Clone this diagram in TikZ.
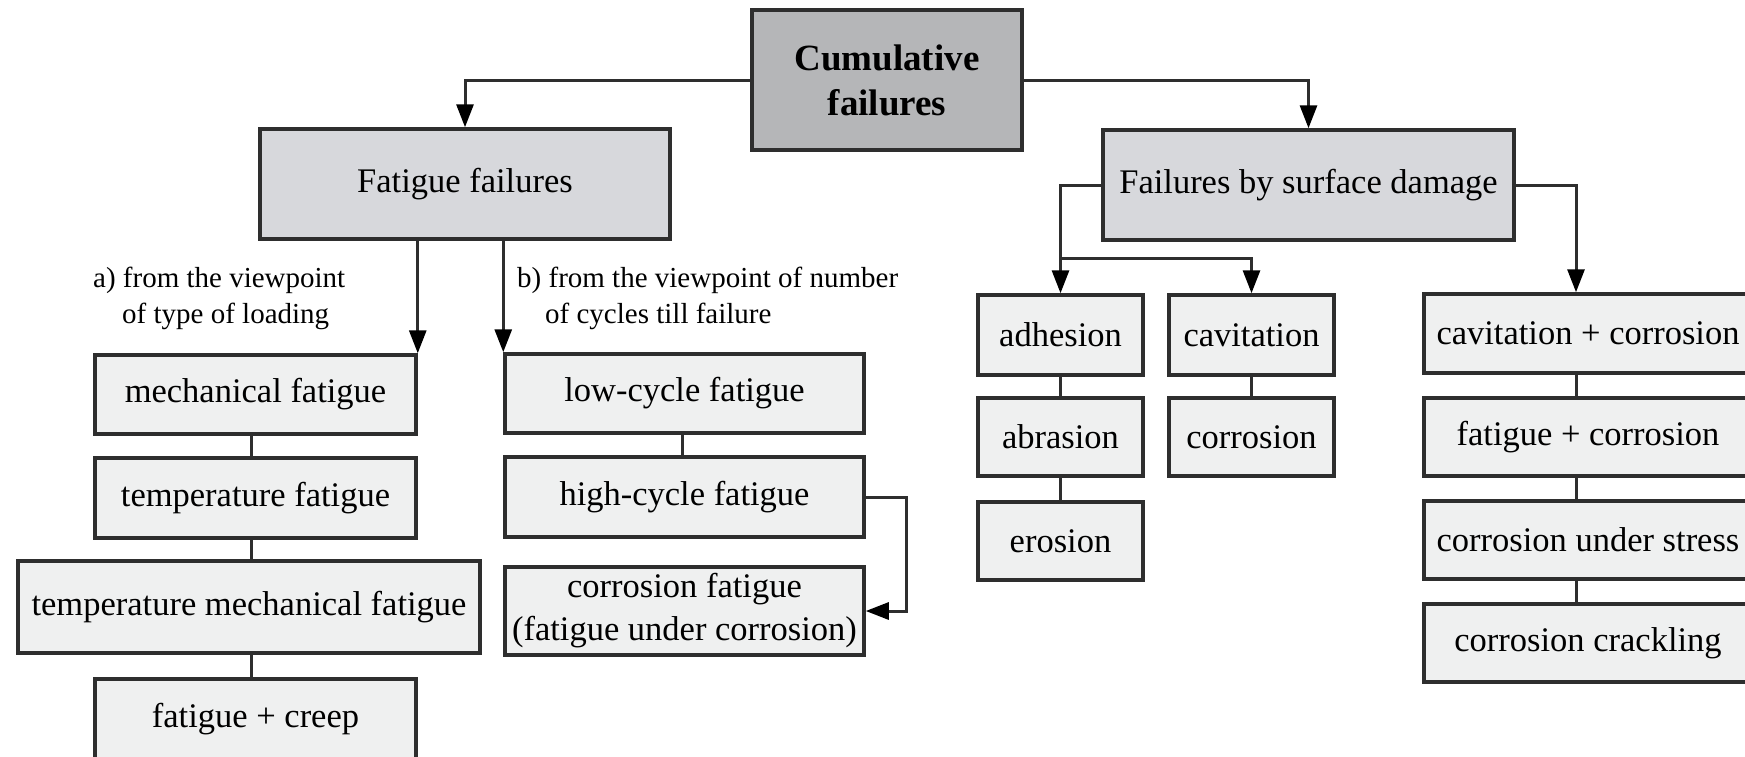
\documentclass[tikz,border=0pt]{standalone}
\usepackage{fontspec}
\setmainfont{Liberation Serif}
\usetikzlibrary{arrows.meta,calc}
\definecolor{bordc}{HTML}{2E2E2E}
\definecolor{cumfill}{HTML}{B5B6B8}
\definecolor{midfill}{HTML}{D7D8DC}
\definecolor{leaffill}{HTML}{EFF0F0}
\begin{document}
\begin{tikzpicture}[x=1pt,y=-1pt,
  box/.style={draw=bordc, line width=3.5pt, inner sep=0pt, align=center,
    font=\fontsize{34.5}{42}\selectfont},
  topbox/.style={box, fill=cumfill, font=\bfseries\fontsize{37}{45}\selectfont},
  midbox/.style={box, fill=midfill},
  leafbox/.style={box, fill=leaffill},
  link/.style={draw=bordc, line width=3pt},
  arr/.style={link, -{Triangle[length=23pt,width=17pt,color=black]}},
  lab/.style={anchor=base west, inner sep=0pt, font=\fontsize{29}{36}\selectfont}
]
\fill[white] (0,0) rectangle (1745,756);
\useasboundingbox (0,0) rectangle (1745,756);
\clip (0,0) rectangle (1745,756);

% top levels
\node[topbox, minimum width=270pt, minimum height=140pt] (cum) at (887,80) {Cumulative\\failures};
\node[midbox, minimum width=410pt, minimum height=110pt] (fat) at (465,184) {Fatigue failures};
\node[midbox, minimum width=411pt, minimum height=110pt] (surf) at (1308.5,185) {Failures by surface damage};

% fatigue, type of loading
\node[leafbox, minimum width=321pt, minimum height=79pt] (mech) at (255.5,394.5) {mechanical fatigue};
\node[leafbox, minimum width=321pt, minimum height=80pt] (temp) at (255.5,498) {temperature fatigue};
\node[leafbox, minimum width=462pt, minimum height=92pt] (tmf) at (249,607) {temperature mechanical fatigue};
\node[leafbox, minimum width=321pt, minimum height=80pt] (creep) at (255.5,719) {fatigue + creep};

% fatigue, number of cycles
\node[leafbox, minimum width=359pt, minimum height=79pt] (low) at (684.5,393.5) {low-cycle fatigue};
\node[leafbox, minimum width=359pt, minimum height=80pt] (high) at (684.5,497) {high-cycle fatigue};
\node[leafbox, minimum width=359pt, minimum height=88pt, font=\fontsize{34.5}{43}\selectfont] (corf) at (684.5,611) {corrosion fatigue\\(fatigue under corrosion)};

% surface damage
\node[leafbox, minimum width=165pt, minimum height=80pt] (adh) at (1060.5,335) {adhesion};
\node[leafbox, minimum width=165pt, minimum height=78pt] (abr) at (1060.5,437) {abrasion};
\node[leafbox, minimum width=165pt, minimum height=78pt] (ero) at (1060.5,541) {erosion};
\node[leafbox, minimum width=165pt, minimum height=80pt] (cav) at (1251.5,335) {cavitation};
\node[leafbox, minimum width=165pt, minimum height=78pt] (cor) at (1251.5,437) {corrosion};
\node[leafbox, minimum width=328pt, minimum height=79pt] (cc) at (1588,333.5) {cavitation + corrosion};
\node[leafbox, minimum width=328pt, minimum height=78pt] (fc) at (1588,437) {fatigue + corrosion};
\node[leafbox, minimum width=328pt, minimum height=78pt] (cus) at (1588,540) {corrosion under stress};
\node[leafbox, minimum width=328pt, minimum height=78pt] (ccr) at (1588,643) {corrosion crackling};

% labels
\node[lab] (la1) at (93,287) {a) from the viewpoint};
\node[lab] (la2) at (122,323) {of type of loading};
\node[lab] (lb1) at (517,287) {b) from the viewpoint of number};
\node[lab] (lb2) at (545,323) {of cycles till failure};

% helper x positions
\coordinate (lx) at (251,0);
\coordinate (hx) at (682,0);
\coordinate (rx) at (1576,0);

% connectors
\draw[arr] (cum.west) -| (fat.north);
\draw[arr] (cum.east) -| (surf.north);
\draw[arr] (mech.north east |- fat.south) -- (mech.north east);
\draw[arr] (low.north west |- fat.south) -- (low.north west);

\draw[link] (mech.south -| lx) -- (temp.north -| lx);
\draw[link] (temp.south -| lx) -- (tmf.north -| lx);
\draw[link] (tmf.south -| lx) -- (creep.north -| lx);

\draw[link] (low.south -| hx) -- (high.north -| hx);
\draw[arr] (high.east) -- ++(41,0) |- (corf.east);

\draw[arr] (surf.west) -| (adh.north);
\draw[arr] (adh.north |- 0,258) -| (cav.north);
\draw[link] (adh.south) -- (abr.north);
\draw[link] (abr.south) -- (ero.north);
\draw[link] (cav.south) -- (cor.north);

\draw[arr] (surf.east) -| (cc.north -| rx);
\draw[link] (cc.south -| rx) -- (fc.north -| rx);
\draw[link] (fc.south -| rx) -- (cus.north -| rx);
\draw[link] (cus.south -| rx) -- (ccr.north -| rx);
\end{tikzpicture}
\end{document}
